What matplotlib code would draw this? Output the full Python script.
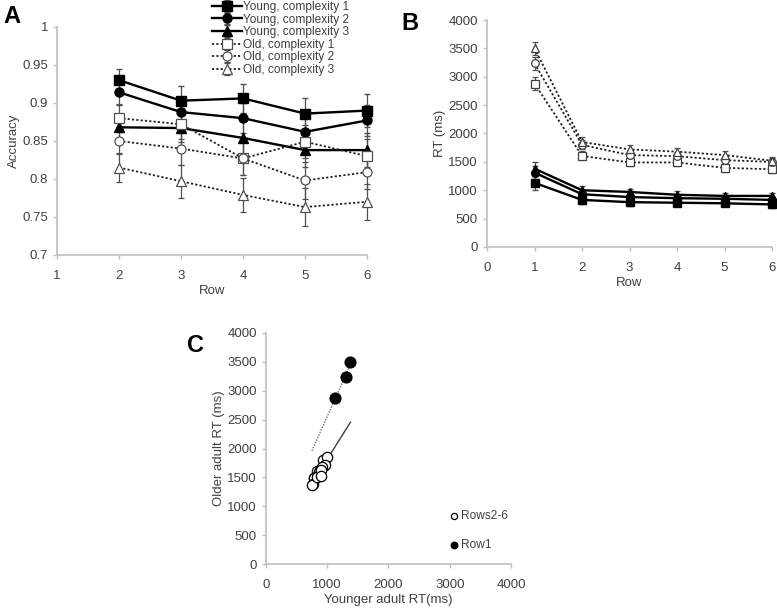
import numpy as np
import matplotlib
matplotlib.use("Agg")
import matplotlib.pyplot as plt

plt.rcParams['font.family'] = ['Liberation Sans', 'DejaVu Sans']

# ---------------- Data ----------------
rows_a = [2, 3, 4, 5, 6]
acc_young_c1 = [0.930, 0.903, 0.906, 0.886, 0.890]
acc_young_c2 = [0.914, 0.888, 0.880, 0.862, 0.877]
acc_young_c3 = [0.868, 0.867, 0.854, 0.838, 0.838]
acc_old_c1 = [0.880, 0.872, 0.827, 0.849, 0.830]
acc_old_c2 = [0.850, 0.840, 0.827, 0.798, 0.809]
acc_old_c3 = [0.815, 0.797, 0.779, 0.763, 0.770]
acc_err_young_c1 = [0.015, 0.019, 0.019, 0.020, 0.022]
acc_err_young_c2 = [0.017, 0.018, 0.020, 0.020, 0.020]
acc_err_young_c3 = [0.018, 0.019, 0.022, 0.022, 0.022]
acc_err_old_c1 = [0.018, 0.020, 0.022, 0.022, 0.022]
acc_err_old_c2 = [0.017, 0.021, 0.022, 0.024, 0.022]
acc_err_old_c3 = [0.019, 0.022, 0.022, 0.025, 0.024]

rows_b = [1, 2, 3, 4, 5, 6]
rt_young_c1 = [1130, 830, 790, 780, 770, 750]
rt_young_c2 = [1310, 930, 880, 860, 850, 830]
rt_young_c3 = [1380, 1000, 970, 920, 900, 900]
rt_old_c1 = [2880, 1605, 1490, 1490, 1394, 1370]
rt_old_c2 = [3235, 1800, 1620, 1600, 1530, 1500]
rt_old_c3 = [3500, 1850, 1720, 1680, 1620, 1520]
rt_err_young = [120, 70, 60, 60, 55, 55]
rt_err_old = [110, 80, 70, 70, 70, 60]

labels = ["Young, complexity 1", "Young, complexity 2", "Young, complexity 3",
          "Old, complexity 1", "Old, complexity 2", "Old, complexity 3"]

# ---------------- Styles ----------------
axis_col = '#bfbfbf'
text_col = '#404040'
ebar_col = '#505050'

fig = plt.figure(figsize=(7.77, 6.10), dpi=100)

def style_axes(ax):
    for s in ['top', 'right']:
        ax.spines[s].set_visible(False)
    for s in ['left', 'bottom']:
        ax.spines[s].set_color(axis_col)
        ax.spines[s].set_linewidth(1.2)
    ax.tick_params(direction='out', length=3, width=1, color=axis_col,
                   labelcolor=text_col, labelsize=9.5)

markers = ['s', 'o', '^']

# ---------------- Panel A ----------------
axA = fig.add_axes([0.0734, 0.582, 0.3990, 0.3738])
style_axes(axA)
young_a = [acc_young_c1, acc_young_c2, acc_young_c3]
young_ea = [acc_err_young_c1, acc_err_young_c2, acc_err_young_c3]
old_a = [acc_old_c1, acc_old_c2, acc_old_c3]
old_ea = [acc_err_old_c1, acc_err_old_c2, acc_err_old_c3]
handles = []
for i in range(3):
    h = axA.errorbar(rows_a, young_a[i], yerr=young_ea[i], color='black', lw=1.7,
                     marker=markers[i], ms=6.5, mfc='black', mec='black',
                     ecolor=ebar_col, elinewidth=0.9, capsize=2, label=labels[i],
                     clip_on=False, zorder=3)
    handles.append(h)
for i in range(3):
    h = axA.errorbar(rows_a, old_a[i], yerr=old_ea[i], color='#202020', lw=1.3, ls=(0, (1.2, 1.2)),
                     marker=markers[i], ms=6.5, mfc='white', mec='#505050', mew=0.9,
                     ecolor=ebar_col, elinewidth=0.9, capsize=2, label=labels[3 + i],
                     clip_on=False, zorder=3)
    handles.append(h)
axA.set_xlim(1, 6)
axA.set_ylim(0.7, 1.0)
axA.set_xticks([1, 2, 3, 4, 5, 6])
axA.set_yticks([0.7, 0.75, 0.8, 0.85, 0.9, 0.95, 1.0])
axA.set_yticklabels(['0.7', '0.75', '0.8', '0.85', '0.9', '0.95', '1'])
axA.tick_params(axis='x', pad=8)
axA.set_xlabel('Row', fontsize=9.5, color=text_col, labelpad=2)
axA.set_ylabel('Accuracy', fontsize=9.5, color=text_col, labelpad=2)
leg = fig.legend(handles=handles, labels=labels, loc='upper left',
                 bbox_to_anchor=(0.2636, 1.010), frameon=False, fontsize=8.6,
                 handlelength=2.5, handletextpad=0.1, labelspacing=0.05,
                 borderpad=0.1)
for t in leg.get_texts():
    t.set_color(text_col)
fig.text(0.004, 0.962, 'A', fontsize=17, fontweight='bold', color='black')

# ---------------- Panel B ----------------
axB = fig.add_axes([0.6268, 0.5951, 0.3668, 0.3721])
style_axes(axB)
young_b = [rt_young_c1, rt_young_c2, rt_young_c3]
old_b = [rt_old_c1, rt_old_c2, rt_old_c3]
for i in range(3):
    axB.errorbar(rows_b, young_b[i], yerr=rt_err_young, color='black', lw=1.7,
                 marker=markers[i], ms=5.5, mfc='black', mec='black',
                 ecolor=ebar_col, elinewidth=0.9, capsize=2, clip_on=False, zorder=3)
for i in range(3):
    axB.errorbar(rows_b, old_b[i], yerr=rt_err_old, color='#202020', lw=1.3, ls=(0, (1.2, 1.2)),
                 marker=markers[i], ms=5.5, mfc='white', mec='#404040', mew=0.9,
                 ecolor=ebar_col, elinewidth=0.9, capsize=2, clip_on=False, zorder=3)
axB.set_xlim(0, 6)
axB.set_ylim(0, 4000)
axB.set_xticks(range(0, 7))
axB.set_yticks(range(0, 4001, 500))
axB.tick_params(axis='x', pad=8)
axB.set_xlabel('Row', fontsize=9.5, color=text_col, labelpad=2)
axB.set_ylabel('RT (ms)', fontsize=9.5, color=text_col, labelpad=2)
fig.text(0.516, 0.950, 'B', fontsize=17, fontweight='bold', color='black')

# ---------------- Panel C ----------------
axC = fig.add_axes([0.3423, 0.0754, 0.3153, 0.3787])
style_axes(axC)
row1_young = [rt_young_c1[0], rt_young_c2[0], rt_young_c3[0]]
row1_old = [rt_old_c1[0], rt_old_c2[0], rt_old_c3[0]]
rest_young = rt_young_c1[1:] + rt_young_c2[1:] + rt_young_c3[1:]
rest_old = rt_old_c1[1:] + rt_old_c2[1:] + rt_old_c3[1:]
all_young = row1_young + rest_young
xfit = np.array([min(all_young), max(all_young)])
p1 = np.polyfit(row1_young, row1_old, 1)
p2 = np.polyfit(rest_young, rest_old, 1)
axC.plot(xfit, np.polyval(p1, xfit), color='#707070', lw=1.0, ls=(0, (1, 1)), zorder=2)
axC.plot(xfit, np.polyval(p2, xfit), color='#404040', lw=1.0, zorder=2)
axC.scatter(rest_young, rest_old, s=55, facecolors='white', edgecolors='black',
            linewidths=0.9, zorder=3, label='Rows2-6')
axC.scatter(row1_young, row1_old, s=60, facecolors='black', edgecolors='black',
            zorder=3, label='Row1')
axC.set_xlim(0, 4000)
axC.set_ylim(0, 4000)
axC.set_xticks(range(0, 4001, 1000))
axC.set_yticks(range(0, 4001, 500))
axC.tick_params(axis='x', pad=8)
axC.set_xlabel('Younger adult RT(ms)', fontsize=9.5, color=text_col, labelpad=2)
axC.set_ylabel('Older adult RT (ms)', fontsize=9.5, color=text_col, labelpad=2)
legC = axC.legend(loc='lower left', bbox_to_anchor=(0.715, 0.02), frameon=False,
                  fontsize=8.6, handlelength=0.8, handletextpad=0.2,
                  labelspacing=1.4, markerscale=0.6, borderpad=0.2)
for t in legC.get_texts():
    t.set_color(text_col)
fig.text(0.241, 0.423, 'C', fontsize=17, fontweight='bold', color='black')

fig.savefig('out.png', dpi=100)
